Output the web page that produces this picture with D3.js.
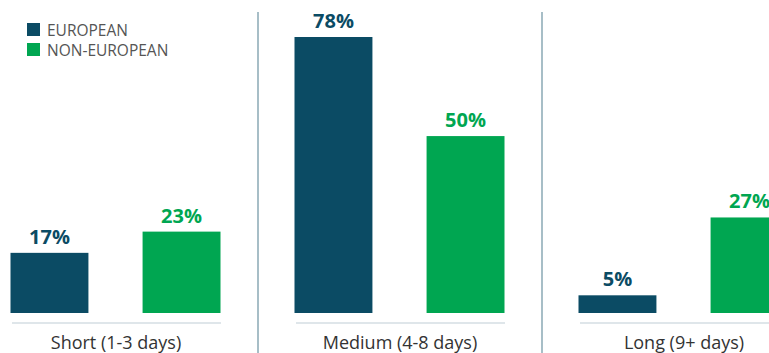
<!DOCTYPE html>
<html><head><meta charset="utf-8">
<script src="https://cdn.jsdelivr.net/npm/d3@7"></script>
<style>html,body{margin:0;padding:0;background:#fff;}svg{display:block;}</style>
</head><body>
<svg id="chart" width="769" height="353"></svg>
<script>
const categories = ["Short (1-3 days)", "Medium (4-8 days)", "Long (9+ days)"];
const seriesNames = ["EUROPEAN", "NON-EUROPEAN"];
const european = [17, 78, 5];
const nonEuropean = [23, 50, 27];
const colors = ["#0b4b64", "#00a651"];

const svg = d3.select("#chart");
const W = 769, H = 353;
const font = "'Open Sans', sans-serif";

const x0 = d3.scaleBand().domain(categories).range([-26, 826]).paddingInner(0).paddingOuter(0);
const x1 = d3.scaleBand().domain(seriesNames).range([36.5, 246.5]).paddingInner(0.41).paddingOuter(0);
const y = d3.scaleLinear().domain([0, 78]).range([313, 37]);

const data = categories.map((c, i) => ({cat: c, vals: [european[i], nonEuropean[i]]}));

// dividers
svg.selectAll("line.div").data(categories.slice(1)).enter().append("line")
  .attr("class", "div")
  .attr("x1", d => x0(d)).attr("x2", d => x0(d))
  .attr("y1", 12).attr("y2", H)
  .attr("stroke", "#a7bec7").attr("stroke-width", 2);

const g = svg.selectAll("g.cat").data(data).enter().append("g")
  .attr("class", "cat")
  .attr("transform", d => `translate(${x0(d.cat)},0)`);

// baseline
g.append("line")
  .attr("x1", 38).attr("x2", 247)
  .attr("y1", 323).attr("y2", 323)
  .attr("stroke", "#dfe6ea").attr("stroke-width", 2);

g.selectAll("rect").data(d => d.vals.map((v, j) => ({s: seriesNames[j], v, j}))).enter().append("rect")
  .attr("x", d => x1(d.s)).attr("width", x1.bandwidth())
  .attr("y", d => y(d.v)).attr("height", d => y(0) - y(d.v))
  .attr("fill", d => colors[d.j]);

g.selectAll("text.val").data(d => d.vals.map((v, j) => ({s: seriesNames[j], v, j}))).enter().append("text")
  .attr("class", "val")
  .attr("x", d => x1(d.s) + x1.bandwidth() / 2)
  .attr("y", d => y(d.v) - 9)
  .attr("text-anchor", "middle")
  .attr("font-family", font).attr("font-weight", 700).attr("font-size", 20)
  .attr("fill", d => colors[d.j])
  .text(d => d.v + "%");

g.append("text")
  .attr("x", x0.bandwidth() / 2).attr("y", 349)
  .attr("text-anchor", "middle")
  .attr("font-family", font).attr("font-size", 18)
  .attr("fill", "#333")
  .text(d => d.cat);

// legend
const leg = svg.selectAll("g.leg").data(seriesNames).enter().append("g")
  .attr("class", "leg")
  .attr("transform", (d, i) => `translate(27,${23 + i * 20})`);
leg.append("rect").attr("width", 13).attr("height", 13).attr("fill", (d, i) => colors[i]);
leg.append("text").attr("x", 20).attr("y", 12.5)
  .attr("font-family", font).attr("font-size", 15.5).attr("fill", "#555")
  .text(d => d);
</script>
</body></html>
